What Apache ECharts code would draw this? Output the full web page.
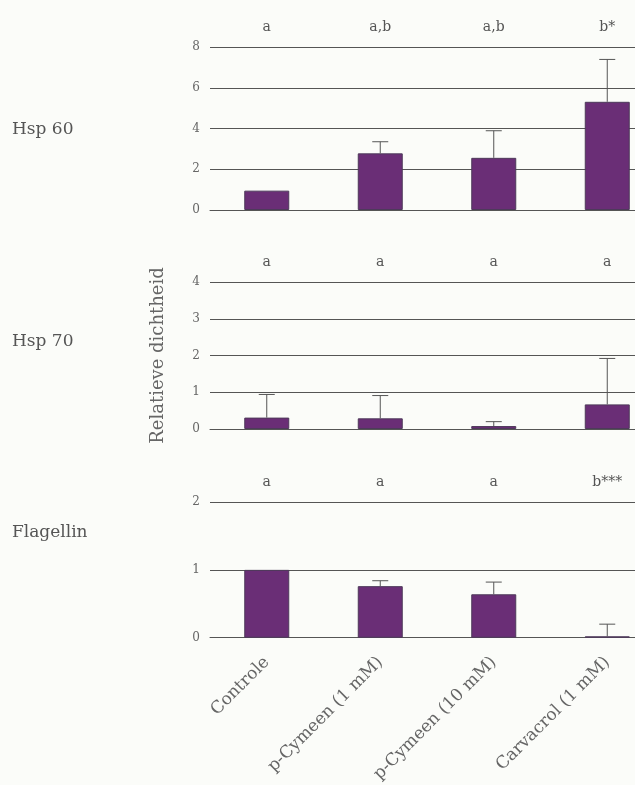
<!DOCTYPE html>
<html>
<head>
<meta charset="utf-8">
<script src="https://cdn.jsdelivr.net/npm/echarts@6/dist/echarts.min.js"></script>
<style>
  html, body { margin: 0; padding: 0; background: #fbfcf9; overflow: hidden; }
  #container { width: 670px; height: 785px; }
</style>
</head>
<body>
<div id="container"></div>
<script>
var categories = ['Controle', 'p-Cymeen (1 mM)', 'p-Cymeen (10 mM)', 'Carvacrol (1 mM)'];

// Hsp 60
var hsp60 = [0.95, 2.78, 2.56, 5.31];
var hsp60Err = [0, 0.57, 1.33, 2.08];
var hsp60Letters = ['a', 'a,b', 'a,b', 'b*'];

// Hsp 70
var hsp70 = [0.31, 0.29, 0.08, 0.67];
var hsp70Err = [0.63, 0.62, 0.12, 1.25];
var hsp70Letters = ['a', 'a', 'a', 'a'];

// Flagellin
var flagellin = [1.0, 0.76, 0.64, 0.02];
var flagellinErr = [0, 0.08, 0.18, 0.18];
var flagellinLetters = ['a', 'a', 'a', 'b***'];

var font = '"DejaVu Serif", "Liberation Serif", serif';
var barColor = '#6a2e76';

function errData(vals, errs) {
    return vals.map(function (v, i) { return [i, v, errs[i]]; });
}

function renderErr(params, api) {
    var err = api.value(2);
    if (!err) return;
    var base = api.coord([api.value(0), api.value(1)]);
    var top = api.coord([api.value(0), api.value(1) + err]);
    var x = base[0];
    return {
        type: 'group',
        children: [
            {type: 'line', shape: {x1: x, y1: base[1], x2: x, y2: top[1]}, style: {stroke: '#555', lineWidth: 1}},
            {type: 'line', shape: {x1: x - 8, y1: top[1], x2: x + 8, y2: top[1]}, style: {stroke: '#555', lineWidth: 1}}
        ]
    };
}

// the plot runs past the right edge of the picture, as in the original
var grids = [
    {left: 210, width: 454, top: 47, height: 163},
    {left: 210, width: 454, top: 282, height: 147},
    {left: 210, width: 454, top: 502, height: 136}
];

function bottomAxis(idx, showLabels) {
    return {
        type: 'category', gridIndex: idx, data: categories, position: 'bottom',
        axisLine: {show: true, lineStyle: {color: '#555', width: 1}},
        axisTick: {show: false},
        axisLabel: {
            show: showLabels, rotate: 45, margin: 22, color: '#666',
            fontFamily: font, fontSize: 17,
            formatter: function (v) { return v; }
        }
    };
}

function topAxis(idx, letters) {
    return {
        type: 'category', gridIndex: idx, data: letters, position: 'top',
        axisLine: {show: false}, axisTick: {show: false},
        axisLabel: {margin: 13, color: '#555', fontFamily: font, fontSize: 14}
    };
}

function valueAxis(idx, max, interval, name) {
    return {
        type: 'value', gridIndex: idx, min: 0, max: max, interval: interval,
        name: name || '', nameLocation: 'middle', nameGap: 43, nameRotate: 90,
        nameTextStyle: {color: '#666', fontFamily: font, fontSize: 18},
        axisLine: {show: false}, axisTick: {show: false},
        axisLabel: {margin: 10, color: '#666', fontFamily: font, fontSize: 12},
        splitLine: {show: true, lineStyle: {color: '#555', width: 1}}
    };
}

function barSeries(idx, data) {
    return {
        type: 'bar', xAxisIndex: idx * 2, yAxisIndex: idx, data: data, barWidth: 45,
        itemStyle: {color: barColor, borderColor: '#4d3a5a', borderWidth: 1}
    };
}

function errSeries(idx, vals, errs) {
    return {
        type: 'custom', xAxisIndex: idx * 2, yAxisIndex: idx,
        data: errData(vals, errs), renderItem: renderErr, z: 3
    };
}

var titleStyle = {color: '#555', fontFamily: font, fontSize: 17, fontWeight: 'normal'};

var myChart = echarts.init(document.getElementById('container'));
var option = {
    backgroundColor: '#fbfcf9',
    animation: false,
    title: [
        {text: 'Hsp 60', left: 7, top: 116, textStyle: titleStyle},
        {text: 'Hsp 70', left: 7, top: 328, textStyle: titleStyle},
        {text: 'Flagellin', left: 7, top: 519, textStyle: titleStyle}
    ],
    grid: grids,
    xAxis: [
        bottomAxis(0, false), topAxis(0, hsp60Letters),
        bottomAxis(1, false), topAxis(1, hsp70Letters),
        bottomAxis(2, true), topAxis(2, flagellinLetters)
    ],
    yAxis: [
        valueAxis(0, 8, 2),
        valueAxis(1, 4, 1, 'Relatieve dichtheid'),
        valueAxis(2, 2, 1)
    ],
    series: [
        barSeries(0, hsp60), errSeries(0, hsp60, hsp60Err),
        barSeries(1, hsp70), errSeries(1, hsp70, hsp70Err),
        barSeries(2, flagellin), errSeries(2, flagellin, flagellinErr)
    ]
};
myChart.setOption(option);
</script>
</body>
</html>
